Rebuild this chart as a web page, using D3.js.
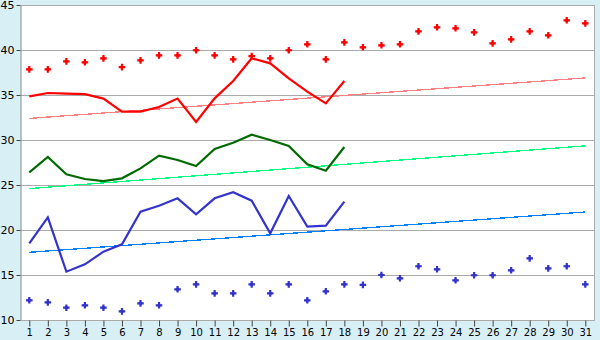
<!DOCTYPE html>
<html>
<head>
<meta charset="utf-8">
<script src="https://cdn.jsdelivr.net/npm/d3@7"></script>
<style>
  body { margin: 0; background: #d9eff6; }
  svg { display: block; }
  .ylab text { font: 11px "DejaVu Sans", sans-serif; fill: #000; }
  .xlab text { font: 10px "DejaVu Sans", sans-serif; fill: #000; }
</style>
</head>
<body>
<div id="chart"></div>
<script>
// days on the x axis
const days = d3.range(1, 32);
const yTicks = [10, 15, 20, 25, 30, 35, 40, 45];

// upper scatter (red) and lower scatter (blue), one per day
const redDots = [37.85, 37.85, 38.74, 38.63, 39.07, 38.1, 38.85, 39.4, 39.4, 39.97,
  39.4, 38.96, 39.33, 39.07, 39.97, 40.63, 38.96, 40.85, 40.3, 40.52,
  40.63, 42.07, 42.52, 42.41, 41.96, 40.74, 41.18, 42.07, 41.63, 43.3, 42.96];
const blueDots = [12.19, 11.96, 11.37, 11.63, 11.37, 10.96, 11.85, 11.63, 13.41, 13.96,
  12.96, 12.96, 13.96, 12.96, 13.96, 12.19, 13.19, 13.96, 13.9, 15.0,
  14.63, 15.97, 15.63, 14.41, 14.97, 14.97, 15.52, 16.85, 15.74, 15.97, 13.96];

// three lines, days 1..18
const redLine = [34.85, 35.22, 35.15, 35.1, 34.6, 33.15, 33.15, 33.67, 34.6, 32.0,
  34.63, 36.56, 39.07, 38.52, 36.85, 35.37, 34.07, 36.56];
const greenLine = [26.41, 28.11, 26.19, 25.67, 25.44, 25.74, 26.85, 28.26, 27.78, 27.1,
  29.0, 29.7, 30.59, 30.0, 29.33, 27.3, 26.59, 29.22];
const blueLine = [18.52, 21.41, 15.37, 16.19, 17.59, 18.41, 22.04, 22.7, 23.52, 21.74,
  23.52, 24.19, 23.26, 19.63, 23.78, 20.37, 20.48, 23.15];

// trend lines: [value at day 1, value at day 31]
const redTrend = [32.4, 36.9];
const greenTrend = [24.6, 29.35];
const blueTrend = [17.52, 22.0];

const width = 600, height = 340;
const margin = {top: 5, right: 5, bottom: 20, left: 21};

const svg = d3.select('#chart').append('svg')
  .attr('width', width).attr('height', height);

const x = d3.scaleLinear().domain([1, 31]).range([29.3, 585.3]);
const y = d3.scaleLinear().domain([10, 45]).range([height - margin.bottom, margin.top]);

// plot background
svg.append('rect')
  .attr('x', margin.left).attr('y', margin.top)
  .attr('width', width - margin.left - margin.right)
  .attr('height', height - margin.top - margin.bottom)
  .attr('fill', '#fff');

// grid
svg.append('g').selectAll('line')
  .data(yTicks)
  .join('line')
  .attr('x1', margin.left).attr('x2', width - margin.right)
  .attr('y1', d => Math.round(y(d)) + 0.5).attr('y2', d => Math.round(y(d)) + 0.5)
  .attr('stroke', '#aaa').attr('stroke-width', 1);

// frame (top/right)
svg.append('path')
  .attr('d', `M${margin.left},${margin.top + 0.5}H${width - margin.right - 0.5}V${height - margin.bottom}`)
  .attr('fill', 'none').attr('stroke', '#aaa');

// axes
const yAxis = svg.append('g').attr('class', 'ylab')
  .attr('transform', `translate(${margin.left - 0.5},0)`)
  .call(d3.axisLeft(y).tickValues(yTicks).tickSize(4).tickSizeOuter(0).tickPadding(2));
yAxis.select('.domain').attr('stroke', '#888');
yAxis.selectAll('.tick line').attr('stroke', '#444');

const xAxis = svg.append('g').attr('class', 'xlab')
  .attr('transform', `translate(0,${height - margin.bottom + 0.5})`)
  .call(d3.axisBottom(x).tickValues(days).tickFormat(d3.format('d')).tickSize(6).tickSizeOuter(0).tickPadding(2));
xAxis.select('.domain').attr('stroke', '#aaa').attr('d', `M${margin.left},0H${width - margin.right}`);
xAxis.selectAll('.tick line').attr('stroke', '#444');

// trend lines
const trends = [[redTrend, '#ff8080'], [greenTrend, '#00ff80'], [blueTrend, '#0080ff']];
svg.append('g').selectAll('line')
  .data(trends)
  .join('line')
  .attr('x1', x(1)).attr('x2', x(31))
  .attr('y1', d => y(d[0][0])).attr('y2', d => y(d[0][1]))
  .attr('stroke', d => d[1]).attr('stroke-width', 1.3)
  .attr('shape-rendering', 'crispEdges');

// data lines
const line = d3.line().x((d, i) => x(i + 1)).y(d => y(d));
const lines = [[redLine, '#ff0000'], [greenLine, '#006a00'], [blueLine, '#3434cc']];
svg.append('g').selectAll('path')
  .data(lines)
  .join('path')
  .attr('d', d => line(d[0]))
  .attr('fill', 'none')
  .attr('stroke', d => d[1]).attr('stroke-width', 2.2)
  .attr('stroke-linejoin', 'miter');

// scatter markers: small cross with a diamond centre
const cross = d3.symbol().type(d3.symbolCross).size(24);
const diamond = d3.symbol().type(d3.symbolSquare).size(12);
const dots = [[redDots, '#ff0000'], [blueDots, '#3434cc']];
dots.forEach(([vals, col]) => {
  const g = svg.append('g').selectAll('g')
    .data(vals)
    .join('g')
    .attr('transform', (d, i) => `translate(${x(i + 1)},${y(d)})`)
    .attr('fill', col);
  g.append('path').attr('d', cross);
  g.append('path').attr('d', diamond).attr('transform', 'rotate(45)');
});
</script>
</body>
</html>
